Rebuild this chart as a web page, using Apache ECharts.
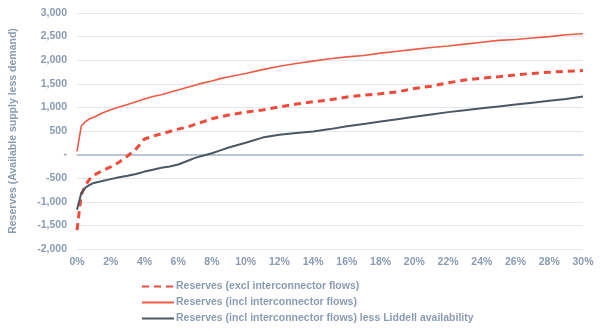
<!DOCTYPE html>
<html><head><meta charset="utf-8">
<script src="https://cdn.jsdelivr.net/npm/echarts@6/dist/echarts.min.js"></script>
<style>html,body{margin:0;padding:0;background:#fff}#c{width:600px;height:331px}</style>
</head><body><div id="c"></div>
<script>
const xPct = [0,0.25,0.5,0.75,1,1.5,2,2.5,3,3.5,4,4.5,5,5.5,6,6.5,7,7.5,8,8.5,9,10,11,12,13,14,15,16,17,18,19,20,21,22,23,24,25,26,27,28,29,30];
const exclFlows = [-1600,-850,-650,-520,-440,-340,-260,-160,-30,120,330,390,440,490,540,580,640,700,760,800,840,900,945,1010,1070,1120,1160,1220,1260,1290,1330,1400,1450,1520,1580,1620,1650,1690,1720,1745,1765,1780];
const inclFlows = [70,600,700,760,790,880,950,1010,1060,1120,1180,1230,1270,1320,1370,1420,1470,1520,1560,1610,1650,1720,1800,1870,1930,1980,2030,2070,2100,2150,2190,2230,2270,2300,2340,2380,2420,2440,2470,2500,2540,2560];
const lessLiddell = [-1170,-820,-700,-640,-600,-560,-520,-480,-450,-410,-360,-320,-280,-250,-210,-140,-70,-20,30,90,150,250,360,420,460,490,540,600,650,700,750,800,850,900,940,980,1020,1060,1100,1140,1180,1230];
const seriesNames = ['Reserves (excl interconnector flows)','Reserves (incl interconnector flows)','Reserves (incl interconnector flows) less Liddell availability'];
const yTicks = {min:-2000,max:3000,interval:500};

const pair = a => xPct.map((x,i)=>[x,a[i]]);
const txt = '#8a9bb2';
const chart = echarts.init(document.getElementById('c'));
chart.setOption({
  animation:false,
  grid:{left:73,right:17,top:13,bottom:82},
  textStyle:{fontFamily:'Liberation Sans, Arial, sans-serif'},
  xAxis:{type:'value',min:0,max:30,interval:2,
    axisLine:{onZero:true,lineStyle:{color:'#a9b8c8',width:1.5}},
    axisTick:{show:false},splitLine:{show:false},
    axisLabel:{formatter:'{value}%',color:txt,fontSize:10.5,fontWeight:'bold',margin:8}
  },
  yAxis:{type:'value',min:yTicks.min,max:yTicks.max,interval:yTicks.interval,
    name:'Reserves (Available supply less demand)',nameLocation:'middle',nameRotate:90,nameGap:58,
    nameTextStyle:{color:txt,fontSize:10.5,fontWeight:'bold'},
    axisLine:{show:false},axisTick:{show:false},
    splitLine:{lineStyle:{color:'#e3e8ee',width:1}},
    axisLabel:{color:txt,fontSize:10.5,fontWeight:'bold',margin:10,
      formatter:v=>v===0?'-':v.toLocaleString('en-US')}
  },
  legend:{orient:'vertical',left:136,top:276,itemGap:5,itemWidth:32,itemHeight:12,
    itemStyle:{opacity:0},
    textStyle:{color:txt,fontSize:10.5,fontWeight:'bold',padding:[0,0,0,-3]},
    data:seriesNames},
  series:[
    {name:seriesNames[0],type:'line',data:pair(exclFlows),showSymbol:false,symbol:'none',
     lineStyle:{color:'#ef4b3a',width:3,type:[7,5]},itemStyle:{color:'#ef4b3a'},z:3},
    {name:seriesNames[1],type:'line',data:pair(inclFlows),showSymbol:false,symbol:'none',
     lineStyle:{color:'#f05a45',width:1.6},itemStyle:{color:'#f05a45'}},
    {name:seriesNames[2],type:'line',data:pair(lessLiddell),showSymbol:false,symbol:'none',
     lineStyle:{color:'#4a5866',width:2},itemStyle:{color:'#4a5866'}}
  ]
});
</script></body></html>
